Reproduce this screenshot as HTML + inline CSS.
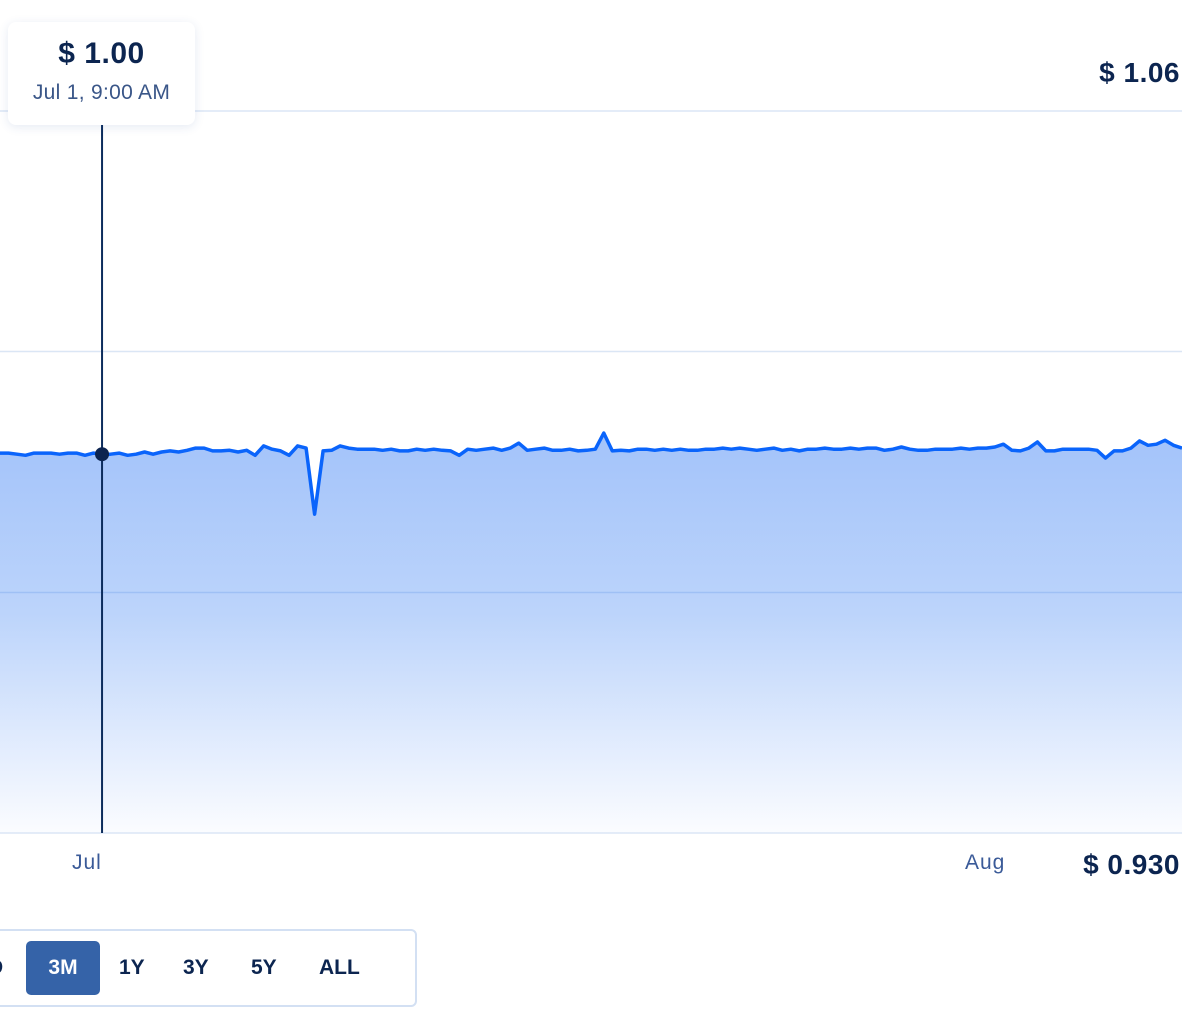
<!DOCTYPE html>
<html><head><meta charset="utf-8"><style>
body{margin:0;width:1182px;height:1028px;background:#fff;overflow:hidden;font-family:"Liberation Sans",sans-serif;position:relative}
.t{position:absolute;white-space:nowrap}
</style></head><body>
<svg id="chart" width="1182" height="1028" style="position:absolute;left:0;top:0">
<defs><linearGradient id="g" x1="0" y1="0" x2="0" y2="1">
<stop offset="0" stop-color="#a3c3fa"/><stop offset="0.45" stop-color="#bcd4fb"/><stop offset="1" stop-color="#fbfcff"/></linearGradient></defs>
<path id="area" fill="url(#g)"/>
<g id="grid"></g>
<path id="line" fill="none" stroke="#0a64fb" stroke-width="3.5" stroke-linejoin="round"/>
<line id="cross" stroke="#0c2c5c" stroke-width="2"/>
<circle id="dot" r="7" fill="#0c2450"/>
</svg>
<div style="position:absolute;left:8px;top:22px;width:187px;height:103px;background:#fff;border-radius:8px;box-shadow:0 2px 10px rgba(40,80,160,0.12)">
<div class="t" style="left:0;width:187px;text-align:center;top:15px;font-size:30px;font-weight:bold;color:#0c2550;letter-spacing:0.5px">$ 1.00</div>
<div class="t" style="left:0;width:187px;text-align:center;top:59px;font-size:21px;color:#3a5688;letter-spacing:0.3px">Jul 1, 9:00 AM</div>
</div>
<div class="t" style="right:2px;top:57px;font-size:28px;font-weight:bold;color:#0c2550;letter-spacing:0.5px">$ 1.06</div>
<div class="t" style="right:2px;top:849px;font-size:28px;font-weight:bold;color:#0c2550;letter-spacing:0.5px">$ 0.930</div>
<div class="t" style="left:72px;top:851px;font-size:21px;color:#3a5a98;letter-spacing:1px">Jul</div>
<div class="t" style="left:965px;top:851px;font-size:21px;color:#3a5a98;letter-spacing:1px">Aug</div>
<div style="position:absolute;left:-10px;top:929px;width:423px;height:74px;border:2px solid #d3e0f3;border-radius:6px;font-size:21px;font-weight:bold;color:#0c2550">
<div class="t" style="left:-4px;top:25px">D</div>
<div class="t" style="left:34px;top:10px;width:74px;height:54px;background:#3563a8;color:#fff;border-radius:5px;text-align:center;line-height:54px">3M</div>
<div class="t" style="left:127px;top:25px">1Y</div>
<div class="t" style="left:191px;top:25px">3Y</div>
<div class="t" style="left:259px;top:25px">5Y</div>
<div class="t" style="left:327px;top:25px">ALL</div>
</div>
<script>
const prices=[.9984,.9984,.9982,.9980,.9984,.9984,.9984,.9982,.9984,.9984,.9980,
.9984,.9982,.9982,.9984,.9980,.9982,.9986,.9982,.9986,.9988,.9986,.9989,.9993,.9993,.9988,.9988,.9989,.9986,.9989,
.9980,.9997,.9991,.9988,.9980,.9997,.9993,.9874,.9988,.9989,.9997,.9993,.9991,.9991,.9991,.9989,.9991,.9988,.9988,.9991,
.9989,.9991,.9989,.9988,.9980,.9991,.9989,.9991,.9993,.9989,.9993,1.0002,.9989,.9991,.9993,.9989,.9989,.9991,.9988,.9989,
.9991,1.0020,.9988,.9989,.9988,.9991,.9991,.9989,.9991,.9989,.9991,.9989,.9989,.9991,.9991,.9993,.9991,.9993,.9991,.9989,
.9991,.9993,.9989,.9991,.9988,.9991,.9991,.9993,.9991,.9991,.9993,.9991,.9993,.9993,.9989,.9991,.9995,.9991,.9989,.9989,
.9991,.9991,.9991,.9993,.9991,.9993,.9993,.9995,1.0000,.9989,.9988,.9993,1.0004,.9988,.9988,.9991,.9991,.9991,.9991,.9989,
.9975,.9988,.9988,.9993,1.0006,.9998,1.0000,1.0007,.9998,.9993];
const yTicks=[1.06,1.0167,0.9733,0.93];
const hoverIndex=12;
const W=1182,plotTop=111,plotBot=833,yMax=1.06,yMin=0.93;
const xPos=i=>i*W/(prices.length-1);
const yPos=v=>plotTop+(yMax-v)/(yMax-yMin)*(plotBot-plotTop);
const grid=document.getElementById('grid');
yTicks.forEach((t,k)=>{const l=document.createElementNS('http://www.w3.org/2000/svg','line');


l.setAttribute('x1',0);l.setAttribute('x2',W);l.setAttribute('y1',yPos(t));l.setAttribute('y2',yPos(t));
l.setAttribute('stroke',k==2?'#9fc0f5':'#dbe6f5');l.setAttribute('stroke-width',1.5);grid.appendChild(l);});
const d=prices.map((v,i)=>(i?'L':'M')+xPos(i).toFixed(1)+' '+yPos(v).toFixed(1)).join(' ');
document.getElementById('line').setAttribute('d',d);
document.getElementById('area').setAttribute('d',d+` L${W} ${plotBot} L0 ${plotBot} Z`);
const c=document.getElementById('cross'),hx=xPos(hoverIndex);
c.setAttribute('x1',hx);c.setAttribute('x2',hx);c.setAttribute('y1',125);c.setAttribute('y2',plotBot);
const dt=document.getElementById('dot');dt.setAttribute('cx',hx);dt.setAttribute('cy',yPos(prices[hoverIndex]));
</script>
</body></html>
